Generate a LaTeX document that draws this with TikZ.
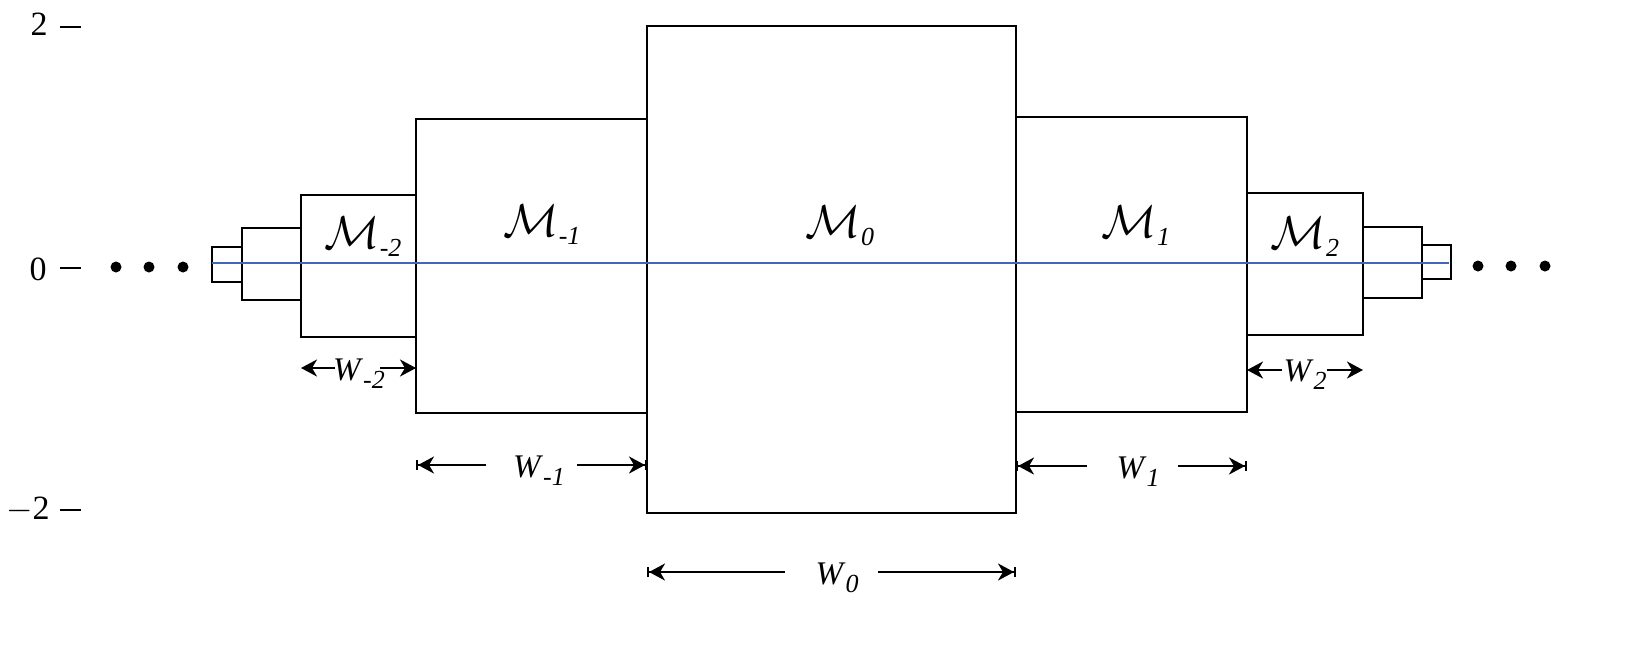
\RequirePackage{fix-cm}
\documentclass[tikz,border=0pt]{standalone}
\usepackage{fontspec}
\setmainfont{Liberation Serif}
\usetikzlibrary{arrows.meta,fit}
\definecolor{axblue}{RGB}{68,102,182}
\newcommand{\Mlab}[1]{{\fontsize{23}{26}\selectfont$\mathcal{M}$}\raisebox{-4pt}{\fontsize{13}{14}\selectfont\textit{#1}}}
\newcommand{\Wlab}[1]{{\fontsize{16.5}{19}\selectfont\textit{W}}\raisebox{-4pt}{\fontsize{13}{15}\selectfont\textit{#1}}}
\begin{document}
\begin{tikzpicture}[x=0.5pt,y=-0.5pt,
  box/.style={draw, line width=1.4pt, inner sep=0pt, outer sep=0pt},
  lab/.style={inner sep=0pt},
  axlab/.style={inner sep=0pt, anchor=east, font=\fontsize{17}{20}\selectfont},
  tick/.style={line width=1.4pt},
  arr/.style={line width=1.2pt, -{Stealth[length=8pt,width=8.5pt,inset=2.5pt,sep=0pt]}},
  arrbar/.style={line width=1.2pt, -{Stealth[length=8pt,width=8.5pt,inset=2.5pt,sep=0pt]Bar[width=5pt,line width=1pt,sep=0pt]}},
  dot/.style={circle, fill, inner sep=0pt, minimum size=5.5pt}]
\useasboundingbox (0,0) rectangle (1636,655);

% boxes
\node[box, fit={(212,247)(242,282)}] (bm4) {};
\node[box, fit={(242,228)(301,300)}] (bm3) {};
\node[box, fit={(301,195)(416,337)}] (bm2) {};
\node[box, fit={(416,119)(647,413)}] (bm1) {};
\node[box, fit={(647,26)(1016,513)}] (b0) {};
\node[box, fit={(1016,117)(1247,412)}] (b1) {};
\node[box, fit={(1247,193)(1363,335)}] (b2) {};
\node[box, fit={(1363,227)(1422,298)}] (b3) {};
\node[box, fit={(1422,245)(1451,279)}] (b4) {};

% axis line
\coordinate (axL) at (212,263);
\coordinate (axR) at (1449,263);
\draw[axblue, line width=1.2pt] (axL) -- (axR);

% mass labels
\node[lab] (lm2) at (363,237) {\Mlab{-2}};
\node[lab] (lm1) at (542,225) {\Mlab{-1}};
\node[lab] (l0) at (840,226) {\Mlab{0}};
\node[lab] (l1) at (1136,226) {\Mlab{1}};
\node[lab] (l2) at (1305,237) {\Mlab{2}};

% dots
\node[dot] (dl1) at (116,267) {};
\node[dot] (dl2) at (149,267) {};
\node[dot] (dl3) at (183,267) {};
\node[dot] (dr1) at (1478,266) {};
\node[dot] (dr2) at (1511,266) {};
\node[dot] (dr3) at (1545,266) {};

% y axis
\node[axlab] (y2) at (48,24) {2};
\node[axlab] (y0) at (47,269) {0};
\node[axlab] (ym2) at (50,510) {$-$2};
\coordinate (t2a) at (60,27);  \coordinate (t2b) at (81,27);
\coordinate (t0a) at (60,268); \coordinate (t0b) at (81,268);
\coordinate (tm2a) at (60,510); \coordinate (tm2b) at (81,510);
\draw[tick] (t2a) -- (t2b);
\draw[tick] (t0a) -- (t0b);
\draw[tick] (tm2a) -- (tm2b);

% width labels and arrows
\node[lab] (wm2) at (359,374) {\Wlab{-2}};
\coordinate (wm2a) at (335,368); \coordinate (wm2b) at (380,368);
\draw[arr] (wm2a) -- (bm2.west |- wm2a);
\draw[arr] (wm2b) -- (bm2.east |- wm2b);

\node[lab] (wm1) at (539,471) {\Wlab{-1}};
\coordinate (wm1a) at (486,465); \coordinate (wm1b) at (577,465);
\draw[arrbar] (wm1a) -- (bm1.west |- wm1a);
\draw[arrbar] (wm1b) -- (bm1.east |- wm1b);

\node[lab] (w0) at (837,578) {\Wlab{0}};
\coordinate (w0a) at (785,572); \coordinate (w0b) at (878,572);
\draw[arrbar] (w0a) -- (b0.west |- w0a);
\draw[arrbar] (w0b) -- (b0.east |- w0b);

\node[lab] (w1) at (1138,472) {\Wlab{1}};
\coordinate (w1a) at (1087,466); \coordinate (w1b) at (1178,466);
\draw[arrbar] (w1a) -- (b1.west |- w1a);
\draw[arrbar] (w1b) -- (b1.east |- w1b);

\node[lab] (w2) at (1305,375) {\Wlab{2}};
\coordinate (w2a) at (1282,370); \coordinate (w2b) at (1327,370);
\draw[arr] (w2a) -- (b2.west |- w2a);
\draw[arr] (w2b) -- (b2.east |- w2b);
\end{tikzpicture}
\end{document}
